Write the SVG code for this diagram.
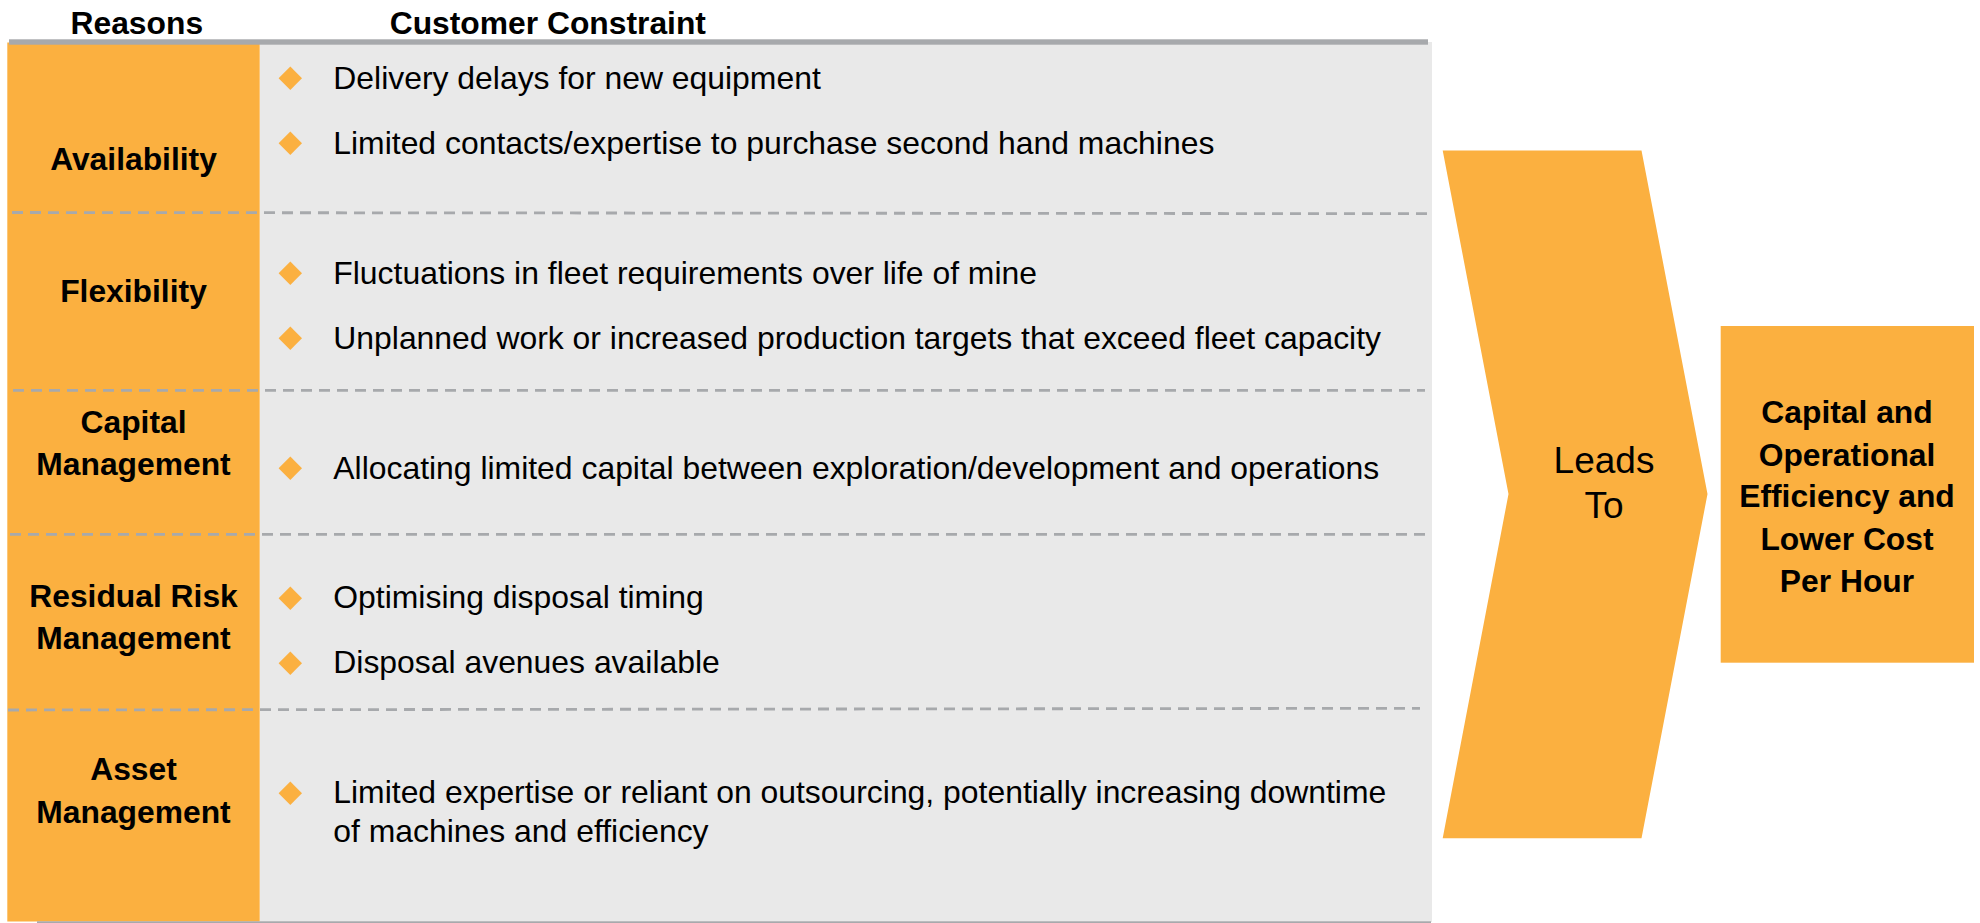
<svg xmlns="http://www.w3.org/2000/svg" width="1980" height="923" viewBox="0 0 1980 923">
<style>
.bold{font-family:"Liberation Sans",Arial,sans-serif;font-weight:bold;font-size:31.8px;fill:#000}
.reg{font-family:"Liberation Sans",Arial,sans-serif;font-size:31.9px;fill:#000}
.mid{text-anchor:middle}
.orange{fill:#FBB040}
.panel{fill:#E9E9E9}
.bar{fill:#A7A9AC}
.dash{stroke:#A7A9AC;stroke-width:2.8;stroke-dasharray:11 7;fill:none}
</style>
<defs>
<polygon id="dia" points="0,-11.7 11.7,0 0,11.7 -11.7,0" fill="#FBB040"/>
</defs>
<rect width="1980" height="923" fill="#fff"/>
<g id="table">
<rect class="panel" x="260" y="42" width="1172" height="880"/>
<rect class="orange" x="7.3" y="42.5" width="252.4" height="879"/>
<rect class="bar" x="9" y="39.3" width="1419" height="5.4"/>
<rect class="bar" x="37" y="921.3" width="1394" height="1.7"/>
<line class="dash" x1="12" y1="212.5" x2="1431" y2="213.7"/>
<line class="dash" x1="13" y1="390.3" x2="1425" y2="390.3"/>
<line class="dash" x1="10" y1="534.3" x2="1425" y2="534.3"/>
<line class="dash" x1="8" y1="710" x2="1420" y2="708.3"/>
</g>
<g id="headers">
<text class="bold mid" x="136.8" y="33.5">Reasons</text>
<text class="bold" x="389.7" y="34">Customer Constraint</text>
</g>
<g id="row-availability">
<text class="bold mid" x="133.5" y="170">Availability</text>
<use href="#dia" x="290.3" y="78.3"/>
<text class="reg" x="333.3" y="89.3">Delivery delays for new equipment</text>
<use href="#dia" x="290.3" y="143.3"/>
<text class="reg" x="333.3" y="154.3">Limited contacts/expertise to purchase second hand machines</text>
</g>
<g id="row-flexibility">
<text class="bold mid" x="133.5" y="301.7">Flexibility</text>
<use href="#dia" x="290.3" y="273.3"/>
<text class="reg" x="333.3" y="284.3">Fluctuations in fleet requirements over life of mine</text>
<use href="#dia" x="290.3" y="338.3"/>
<text class="reg" x="333.3" y="349.3">Unplanned work or increased production targets that exceed fleet capacity</text>
</g>
<g id="row-capital">
<text class="bold mid" x="133.5" y="433.3">Capital</text>
<text class="bold mid" x="133.5" y="475">Management</text>
<use href="#dia" x="290.3" y="468.3"/>
<text class="reg" x="333.3" y="479.3">Allocating limited capital between exploration/development and operations</text>
</g>
<g id="row-residual">
<text class="bold mid" x="133.5" y="607.3">Residual Risk</text>
<text class="bold mid" x="133.5" y="649">Management</text>
<use href="#dia" x="290.3" y="598.3"/>
<text class="reg" x="333.3" y="608.3">Optimising disposal timing</text>
<use href="#dia" x="290.3" y="663.3"/>
<text class="reg" x="333.3" y="673.3">Disposal avenues available</text>
</g>
<g id="row-asset">
<text class="bold mid" x="133.5" y="780">Asset</text>
<text class="bold mid" x="133.5" y="822.7">Management</text>
<use href="#dia" x="290.3" y="793.3"/>
<text class="reg" x="333.3" y="803.3">Limited expertise or reliant on outsourcing, potentially increasing downtime</text>
<text class="reg" x="333.3" y="842.3">of machines and efficiency</text>
</g>
<g id="connectors"></g>
<g id="leads-to">
<polygon class="orange" points="1442.7,150.5 1641.5,150.5 1707.5,494 1641.5,838.3 1442.7,838.3 1508.5,494"/>
<text class="reg mid" style="font-size:37px" x="1604" y="473.4">Leads</text>
<text class="reg mid" style="font-size:37px" x="1604" y="518">To</text>
</g>
<g id="outcome">
<rect class="orange" x="1720.7" y="326" width="253.3" height="336.7"/>
<text class="bold mid" x="1847" y="422.7">Capital and</text>
<text class="bold mid" x="1847" y="465.7">Operational</text>
<text class="bold mid" x="1847" y="506.7">Efficiency and</text>
<text class="bold mid" x="1847" y="550">Lower Cost</text>
<text class="bold mid" x="1847" y="591.7">Per Hour</text>
</g>
</svg>
